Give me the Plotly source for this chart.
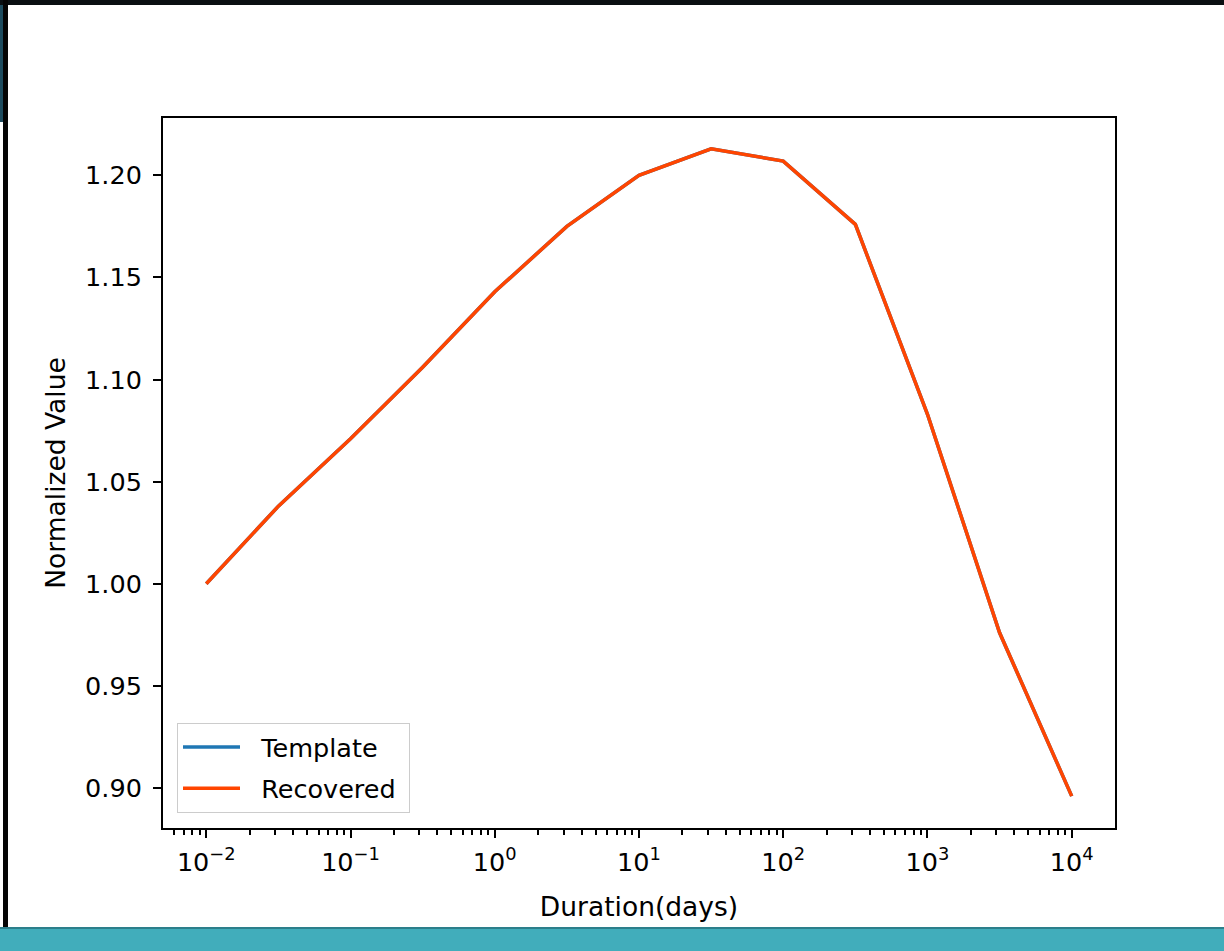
import plotly.graph_objects as go

# ---- data ----
durations = [0.01, 0.031623, 0.1, 0.31623, 1.0, 3.1623, 10.0, 31.623, 100.0,
             316.23, 1000.0, 3162.3, 10000.0]
template_values = [1.000, 1.038, 1.071, 1.106, 1.143, 1.175, 1.200, 1.213,
                   1.207, 1.176, 1.083, 0.976, 0.896]
recovered_values = [1.000, 1.038, 1.071, 1.106, 1.143, 1.175, 1.200, 1.213,
                    1.207, 1.176, 1.083, 0.976, 0.896]
series_names = ["Template", "Recovered"]
x_tick_vals = [0.01, 0.1, 1, 10, 100, 1000, 10000]
x_tick_text = ["10<sup>\u22122</sup>", "10<sup>\u22121</sup>", "10<sup>0</sup>",
               "10<sup>1</sup>", "10<sup>2</sup>", "10<sup>3</sup>", "10<sup>4</sup>"]
y_tick_vals = [0.90, 0.95, 1.00, 1.05, 1.10, 1.15, 1.20]
x_minor_vals = [k * 10.0 ** e for e in range(-3, 5) for k in range(2, 10)
                if 0.005 < k * 10.0 ** e < 20000]

W, H = 1224, 951
L, R, T, B = 163, 1115, 118, 828  # plot area in pixels
FONT = "DejaVu Sans"
FS_TICK = 25.5
FS_TITLE = 26.5
FS_LEG = 25.5
NB = "\u00a0"


def px(x):
    return (x - L) / (R - L)


def py(y):
    return (B - y) / (B - T)


def leg(name):
    # non-breaking spaces only add the gap matplotlib leaves around legend text
    return NB * 2 + name + NB


fig = go.Figure()
fig.add_trace(go.Scatter(x=durations, y=template_values, mode="lines",
                         name=leg(series_names[0]), legendgroup="a",
                         line=dict(color="#1f77b4", width=3.5)))
fig.add_trace(go.Scatter(x=durations, y=recovered_values, mode="lines",
                         name=leg(series_names[1]), legendgroup="b",
                         line=dict(color="#ff4500", width=3.5)))

shapes = [
    # screenshot frame decorations
    dict(type="rect", x0=px(0), x1=px(W), y0=py(0), y1=py(5),
         fillcolor="#0a0f12", line=dict(width=0)),
    dict(type="rect", x0=px(0), x1=px(3), y0=py(5), y1=py(122),
         fillcolor="#1d4b5e", line=dict(width=0)),
    dict(type="rect", x0=px(3), x1=px(8), y0=py(0), y1=py(928),
         fillcolor="#050505", line=dict(width=0)),
    dict(type="rect", x0=px(0), x1=px(W), y0=py(927), y1=py(H),
         fillcolor="#41adbb", line=dict(width=0)),
    dict(type="rect", x0=px(0), x1=px(W), y0=py(927), y1=py(929),
         fillcolor="#2c7f8b", line=dict(width=0)),
]
for s in shapes:
    s.update(xref="paper", yref="paper", layer="above")

fig.update_layout(
    width=W, height=H,
    margin=dict(l=L, r=W - R, t=T, b=H - B, pad=0),
    paper_bgcolor="white", plot_bgcolor="white",
    font=dict(family=FONT, size=FS_TICK, color="black"),
    showlegend=True,
    legend=dict(x=px(177), y=py(813), xanchor="left", yanchor="bottom",
                bgcolor="rgba(255,255,255,0.8)", bordercolor="#cccccc",
                borderwidth=1, font=dict(family=FONT, size=FS_LEG, color="black"),
                traceorder="grouped", tracegroupgap=5, itemwidth=57),
    shapes=shapes,
)
fig.update_xaxes(
    type="log", range=[-2.3, 4.3],
    tickmode="array", tickvals=x_tick_vals, ticktext=x_tick_text,
    ticks="outside", ticklen=8, tickwidth=2, tickcolor="black",
    minor=dict(tickmode="array", tickvals=x_minor_vals, ticks="outside",
               ticklen=5, tickwidth=1.5, tickcolor="black"),
    showline=True, linecolor="black", linewidth=2, mirror=True,
    showgrid=False, zeroline=False, ticklabelstandoff=2,
    tickfont=dict(family=FONT, size=FS_TICK, color="black"),
    title=dict(text="Duration(days)", font=dict(family=FONT, size=FS_TITLE, color="black"),
               standoff=22),
)
fig.update_yaxes(
    range=[0.8804, 1.2281],
    tickmode="array", tickvals=y_tick_vals, tickformat=".2f",
    ticks="outside", ticklen=8, tickwidth=2, tickcolor="black",
    showline=True, linecolor="black", linewidth=2, mirror=True,
    showgrid=False, zeroline=False, ticklabelstandoff=6,
    tickfont=dict(family=FONT, size=FS_TICK, color="black"),
    title=dict(text="Normalized Value", font=dict(family=FONT, size=FS_TITLE, color="black"),
               standoff=12),
)

fig.write_html("out.html", config={"displayModeBar": False},
               post_script="document.body.style.margin='0';")
